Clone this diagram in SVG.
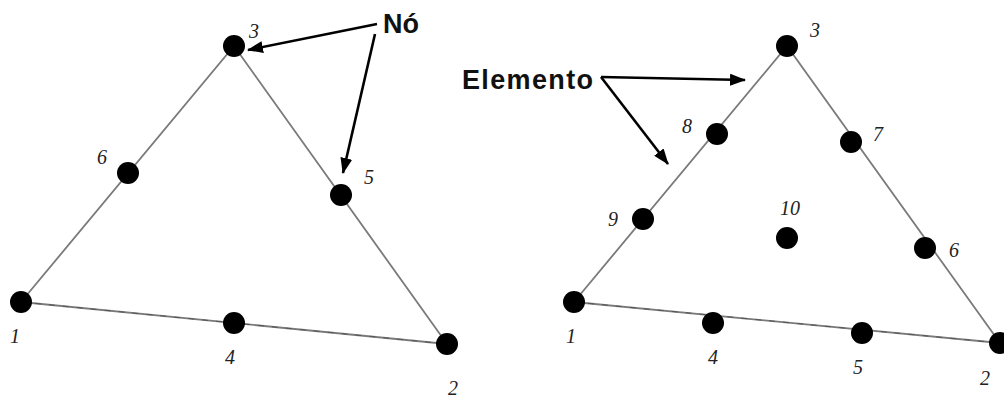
<svg xmlns="http://www.w3.org/2000/svg" width="1004" height="398" viewBox="0 0 1004 398">
<style>
.edge{stroke:#7a7a7a;stroke-width:1.8;fill:none}
.edgeb{stroke:#555;stroke-width:1;stroke-dasharray:6 8;fill:none}
.node{fill:#000}
.num{font-family:"Liberation Serif",serif;font-style:italic;font-size:20px;fill:#222;text-anchor:middle}
.lbl{font-family:"Liberation Sans",Arial,sans-serif;font-weight:bold;font-size:27px;fill:#111}
.arr{stroke:#000;stroke-width:2.6;fill:none;marker-end:url(#ah)}
</style>
<defs>
<marker id="ah" markerUnits="userSpaceOnUse" viewBox="0 0 16 12" markerWidth="16" markerHeight="12" refX="15" refY="6" orient="auto">
<path d="M0,0 L16,6 L0,12 z" fill="#000"/>
</marker>
</defs>
<g id="edges">
<polyline class="edge" points="21,302 234,46 447,344"/>
<line class="edge" x1="21" y1="302" x2="447" y2="344"/>
<line class="edgeb" x1="21" y1="302" x2="447" y2="344"/>
<polyline class="edge" points="574,302 787,46 1000,343"/>
<line class="edge" x1="574" y1="302" x2="1000" y2="343"/>
<line class="edgeb" x1="574" y1="302" x2="1000" y2="343"/>
</g>
<g id="connectors">
<line class="arr" x1="377" y1="24" x2="248" y2="50"/>
<line class="arr" x1="375" y1="34" x2="343" y2="173"/>
<line class="arr" x1="601" y1="77" x2="745" y2="80"/>
<line class="arr" x1="601" y1="77" x2="668" y2="164"/>
</g>
<g id="left-element">
<g id="L-n1"><circle class="node" cx="21" cy="302" r="11"/><text class="num" x="15" y="343">1</text></g>
<g id="L-n2"><circle class="node" cx="447" cy="344" r="11"/><text class="num" x="453" y="395">2</text></g>
<g id="L-n3"><circle class="node" cx="234" cy="46" r="11"/><text class="num" x="254" y="38">3</text></g>
<g id="L-n4"><circle class="node" cx="234" cy="323" r="11"/><text class="num" x="230" y="364">4</text></g>
<g id="L-n5"><circle class="node" cx="341" cy="195" r="11"/><text class="num" x="369" y="184">5</text></g>
<g id="L-n6"><circle class="node" cx="128" cy="173" r="11"/><text class="num" x="102" y="164">6</text></g>
</g>
<g id="right-element">
<g id="R-n1"><circle class="node" cx="574" cy="302" r="11"/><text class="num" x="571" y="343">1</text></g>
<g id="R-n2"><circle class="node" cx="1000" cy="343" r="11"/><text class="num" x="985" y="385">2</text></g>
<g id="R-n3"><circle class="node" cx="787" cy="46" r="11"/><text class="num" x="815" y="37">3</text></g>
<g id="R-n4"><circle class="node" cx="713" cy="323" r="11"/><text class="num" x="713" y="364">4</text></g>
<g id="R-n5"><circle class="node" cx="862" cy="333" r="11"/><text class="num" x="858" y="374">5</text></g>
<g id="R-n6"><circle class="node" cx="925" cy="248" r="11"/><text class="num" x="954" y="257">6</text></g>
<g id="R-n7"><circle class="node" cx="851" cy="142" r="11"/><text class="num" x="878" y="141">7</text></g>
<g id="R-n8"><circle class="node" cx="717" cy="134" r="11"/><text class="num" x="687" y="133">8</text></g>
<g id="R-n9"><circle class="node" cx="643" cy="219" r="11"/><text class="num" x="613" y="226">9</text></g>
<g id="R-n10"><circle class="node" cx="787" cy="238" r="11"/><text class="num" x="790" y="215">10</text></g>
</g>
<g id="label-no"><text class="lbl" x="383" y="33">Nó</text></g>
<g id="label-elemento"><text class="lbl" x="462" y="89" textLength="131">Elemento</text></g>
</svg>
